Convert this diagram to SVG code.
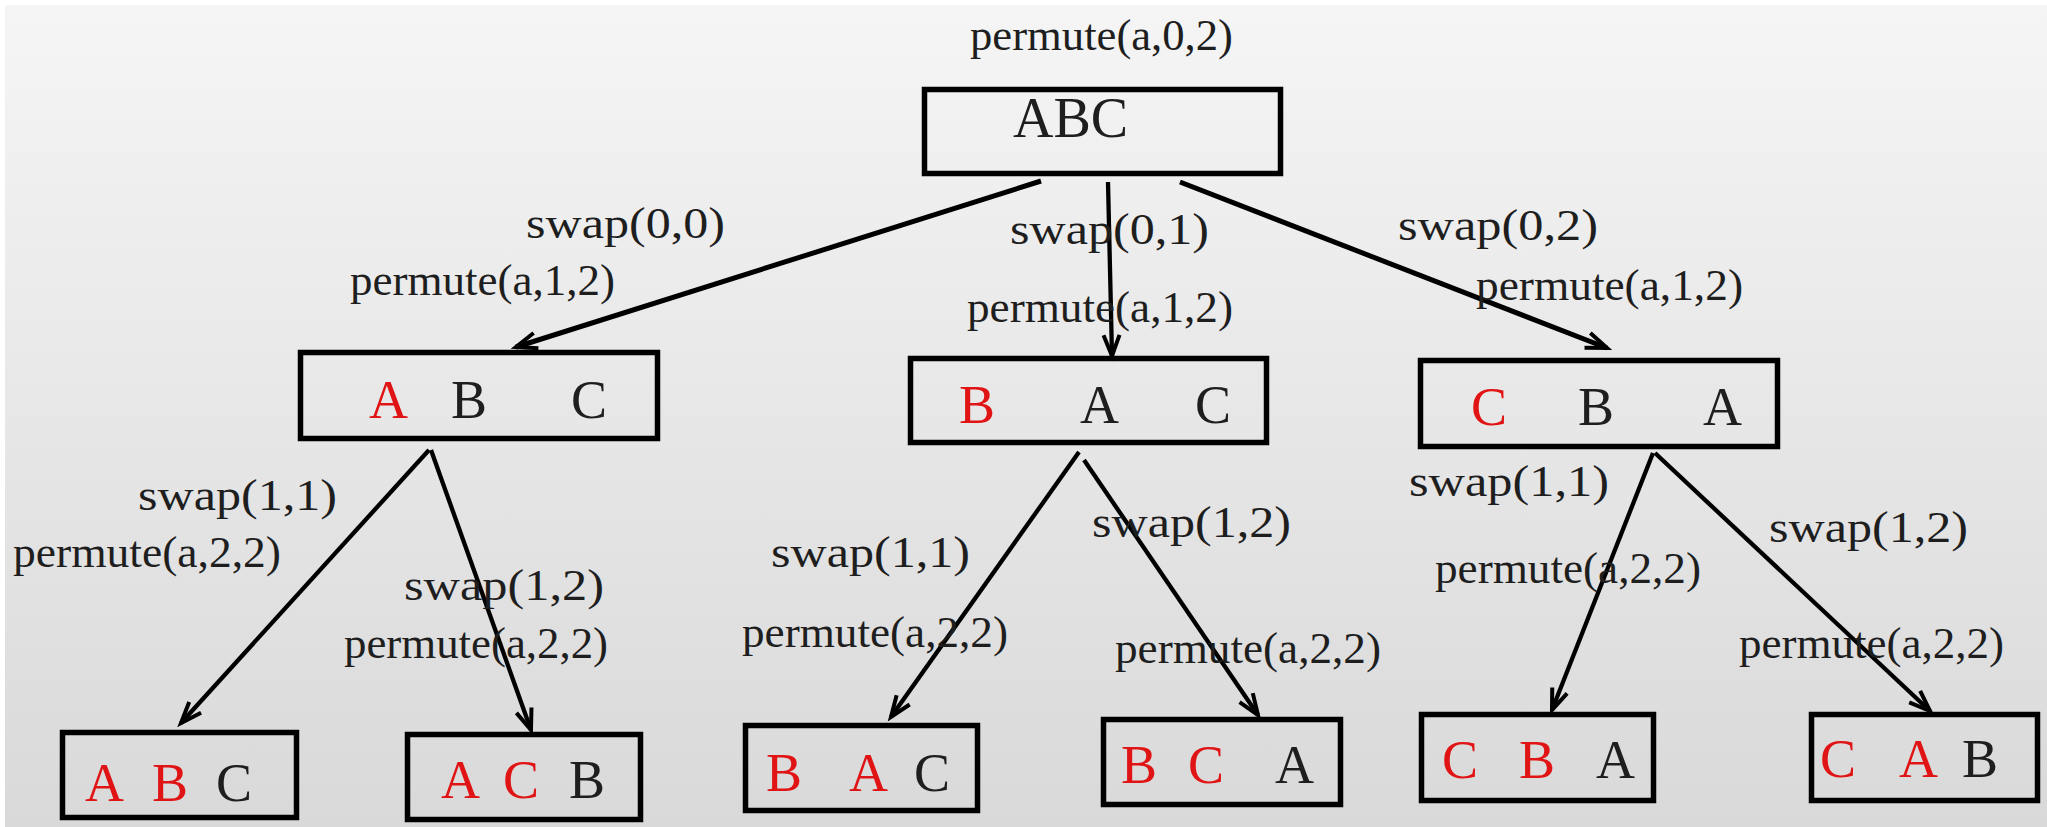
<svg xmlns="http://www.w3.org/2000/svg" width="2047" height="827" viewBox="0 0 2047 827">
<defs>
<linearGradient id="bg" x1="0" y1="0" x2="0" y2="1">
<stop offset="0" stop-color="#f5f5f5"/>
<stop offset="1" stop-color="#d9d9d9"/>
</linearGradient>
<marker id="arr" markerUnits="userSpaceOnUse" markerWidth="40" markerHeight="40" refX="0" refY="0" orient="auto" overflow="visible">
<path d="M-21,-8 L0,0 L-21,8" fill="none" stroke="#000" stroke-width="4"/>
</marker>
<style>
.box{fill:none;stroke:#000;stroke-width:5.5}
.lbl{font-family:"Liberation Serif","Times New Roman",serif;font-size:44px;fill:#1e1e1e}
.ch{font-family:"Liberation Serif","Times New Roman",serif;font-size:54px;fill:#1e1e1e}
.r{fill:#e01414}
.edge{stroke:#000;stroke-width:4.3;fill:none;marker-end:url(#arr)}
</style>
</defs>
<rect x="0" y="0" width="2047" height="827" fill="#ffffff"/>
<rect x="5" y="5" width="2042" height="822" fill="url(#bg)"/>

<g id="connectors">
<line class="edge" x1="1041" y1="181" x2="516" y2="347" style="stroke-width:5"/>
<line class="edge" x1="1108" y1="182" x2="1112" y2="356"/>
<line class="edge" x1="1180" y1="182" x2="1607" y2="348" style="stroke-width:5"/>
<line class="edge" x1="429" y1="450" x2="181" y2="723"/>
<line class="edge" x1="431" y1="450" x2="531" y2="730"/>
<line class="edge" x1="1079" y1="452" x2="891" y2="717"/>
<line class="edge" x1="1084" y1="460" x2="1258" y2="715"/>
<line class="edge" x1="1653" y1="453" x2="1552" y2="710"/>
<line class="edge" x1="1655" y1="453" x2="1930" y2="711"/>
</g>

<g id="labels">
<text class="lbl" x="970" y="50" textLength="263" lengthAdjust="spacingAndGlyphs">permute(a,0,2)</text>
<text class="lbl" x="526" y="238" textLength="199" lengthAdjust="spacingAndGlyphs">swap(0,0)</text>
<text class="lbl" x="350" y="295" textLength="265" lengthAdjust="spacingAndGlyphs">permute(a,1,2)</text>
<text class="lbl" x="1010" y="244" textLength="199" lengthAdjust="spacingAndGlyphs">swap(0,1)</text>
<text class="lbl" x="967" y="322" textLength="266" lengthAdjust="spacingAndGlyphs">permute(a,1,2)</text>
<text class="lbl" x="1398" y="240" textLength="200" lengthAdjust="spacingAndGlyphs">swap(0,2)</text>
<text class="lbl" x="1476" y="300" textLength="267" lengthAdjust="spacingAndGlyphs">permute(a,1,2)</text>
<text class="lbl" x="138" y="510" textLength="199" lengthAdjust="spacingAndGlyphs">swap(1,1)</text>
<text class="lbl" x="13" y="567" textLength="268" lengthAdjust="spacingAndGlyphs">permute(a,2,2)</text>
<text class="lbl" x="404" y="600" textLength="200" lengthAdjust="spacingAndGlyphs">swap(1,2)</text>
<text class="lbl" x="344" y="658" textLength="264" lengthAdjust="spacingAndGlyphs">permute(a,2,2)</text>
<text class="lbl" x="771" y="567" textLength="199" lengthAdjust="spacingAndGlyphs">swap(1,1)</text>
<text class="lbl" x="742" y="647" textLength="266" lengthAdjust="spacingAndGlyphs">permute(a,2,2)</text>
<text class="lbl" x="1092" y="537" textLength="199" lengthAdjust="spacingAndGlyphs">swap(1,2)</text>
<text class="lbl" x="1115" y="663" textLength="266" lengthAdjust="spacingAndGlyphs">permute(a,2,2)</text>
<text class="lbl" x="1409" y="496" textLength="200" lengthAdjust="spacingAndGlyphs">swap(1,1)</text>
<text class="lbl" x="1435" y="583" textLength="266" lengthAdjust="spacingAndGlyphs">permute(a,2,2)</text>
<text class="lbl" x="1769" y="542" textLength="199" lengthAdjust="spacingAndGlyphs">swap(1,2)</text>
<text class="lbl" x="1739" y="658" textLength="265" lengthAdjust="spacingAndGlyphs">permute(a,2,2)</text>
</g>

<g id="node-root">
<rect class="box" x="924.5" y="89.5" width="356" height="84"/>
<text class="ch" x="1013" y="137" style="font-size:56px">ABC</text>
</g>
<g id="node-l1-abc">
<rect class="box" x="300.5" y="352.5" width="357" height="86"/>
<text class="ch r" x="369" y="418">A</text>
<text class="ch" x="451" y="418">B</text>
<text class="ch" x="571" y="418">C</text>
</g>
<g id="node-l1-bac">
<rect class="box" x="910.5" y="358.5" width="356" height="84"/>
<text class="ch r" x="959" y="423">B</text>
<text class="ch" x="1080" y="423">A</text>
<text class="ch" x="1195" y="423">C</text>
</g>
<g id="node-l1-cba">
<rect class="box" x="1420.5" y="360.5" width="357" height="86"/>
<text class="ch r" x="1471" y="425">C</text>
<text class="ch" x="1578" y="425">B</text>
<text class="ch" x="1703" y="425">A</text>
</g>
<g id="node-l2-abc">
<rect class="box" x="62.5" y="732.5" width="234" height="85"/>
<text class="ch r" x="85" y="801">A</text>
<text class="ch r" x="152" y="801">B</text>
<text class="ch" x="216" y="801">C</text>
</g>
<g id="node-l2-acb">
<rect class="box" x="407.5" y="734.5" width="233" height="85"/>
<text class="ch r" x="441" y="798">A</text>
<text class="ch r" x="503" y="798">C</text>
<text class="ch" x="569" y="798">B</text>
</g>
<g id="node-l2-bac">
<rect class="box" x="745.5" y="725.5" width="232" height="85"/>
<text class="ch r" x="766" y="791">B</text>
<text class="ch r" x="849" y="791">A</text>
<text class="ch" x="914" y="791">C</text>
</g>
<g id="node-l2-bca">
<rect class="box" x="1103.5" y="719.5" width="237" height="85"/>
<text class="ch r" x="1121" y="783">B</text>
<text class="ch r" x="1188" y="783">C</text>
<text class="ch" x="1275" y="783">A</text>
</g>
<g id="node-l2-cba">
<rect class="box" x="1421.5" y="714.5" width="232" height="86"/>
<text class="ch r" x="1442" y="778">C</text>
<text class="ch r" x="1519" y="778">B</text>
<text class="ch" x="1596" y="778">A</text>
</g>
<g id="node-l2-cab">
<rect class="box" x="1811.5" y="714.5" width="226" height="86"/>
<text class="ch r" x="1820" y="777">C</text>
<text class="ch r" x="1899" y="777">A</text>
<text class="ch" x="1962" y="777">B</text>
</g>
</svg>
